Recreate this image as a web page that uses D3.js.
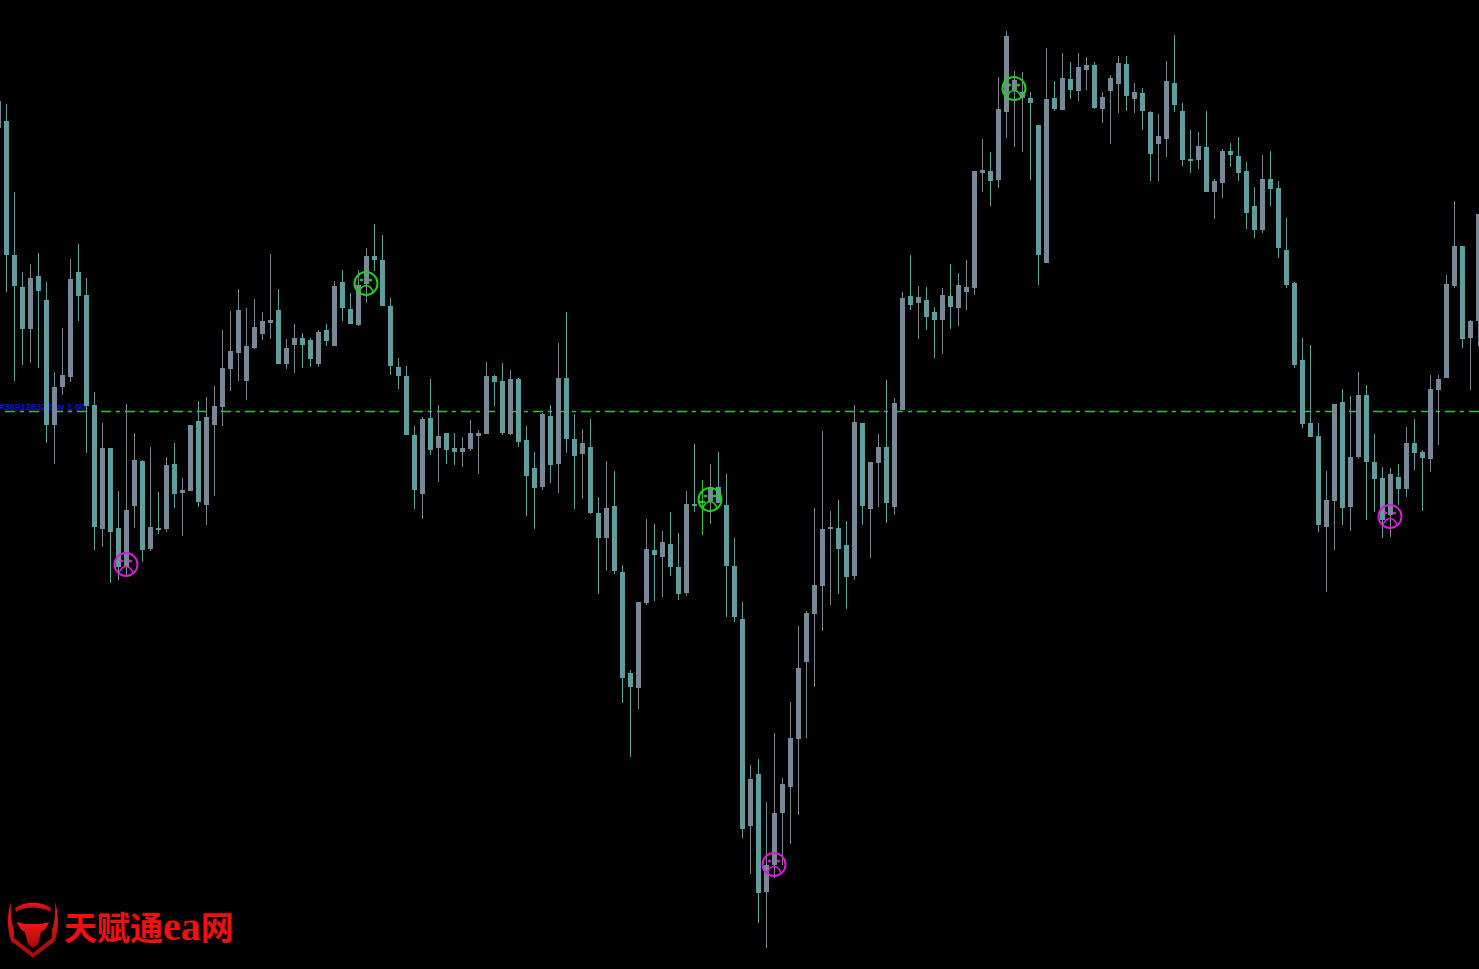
<!DOCTYPE html>
<html>
<head>
<meta charset="utf-8">
<script src="https://cdn.jsdelivr.net/npm/d3@7"></script>
<style>html,body{margin:0;padding:0;background:#000;overflow:hidden}svg{display:block}</style>
</head>
<body>
<div id="chart"></div>
<script>
const highs=[868,865,777,697,705,716,687,597,641,710,725,691,577,546,521,478,565,536,509,522,477,512,526,491,544,568,572,583,639,658,680,661,670,657,715,680,630,645,636,631,639,645,688,699,676,699,721,745,734,671,611,603,543,552,590,564,536,536,532,549,539,607,594,606,599,591,543,517,556,564,626,657,555,540,550,472,508,498,404,299,367,450,445,438,457,436,478,525,489,505,517,495,431,367,204,210,167,236,191,267,343,358,461,538,458,469,448,564,546,507,535,589,571,677,714,683,682,662,681,705,696,709,798,830,817,892,938,898,897,877,844,921,888,916,907,916,912,907,877,894,913,913,886,881,858,855,908,934,866,839,837,858,790,820,826,832,807,782,814,818,788,751,687,631,624,546,498,565,580,573,597,584,535,502,501,505,542,550,519,594,594,694,768,723,649,755];
const lows=[841,677,588,604,606,601,526,505,574,587,648,516,419,422,386,389,394,441,407,418,435,437,461,433,478,462,444,473,543,578,588,569,620,629,630,605,600,596,601,602,602,623,623,648,645,643,666,698,663,594,580,534,460,450,514,487,505,504,502,518,495,535,563,534,534,522,453,440,479,486,476,516,460,470,455,375,398,395,266,212,260,364,368,372,393,369,373,457,434,445,466,352,347,131,95,46,21,91,104,125,154,231,282,338,364,375,360,389,444,411,462,446,454,559,659,630,639,611,615,640,643,659,674,777,763,781,831,822,817,789,684,706,858,859,870,868,879,860,846,825,856,858,856,839,788,788,812,857,803,796,800,777,750,771,802,788,740,731,736,763,711,681,601,541,532,437,377,419,444,438,510,449,457,431,432,464,472,499,458,497,524,591,681,621,579,623];
const opens=[841,848,714,682,640,693,669,544,582,592,697,674,564,440,521,441,402,463,508,420,441,440,505,476,478,548,464,544,562,600,616,588,621,635,646,659,605,624,631,629,605,639,623,687,660,644,685,713,709,663,602,593,534,475,551,521,536,521,517,520,533,535,593,588,535,590,529,501,482,553,505,591,530,515,522,456,431,463,397,296,281,366,419,412,425,402,376,465,468,468,482,464,403,350,143,195,77,104,156,182,230,307,355,383,440,441,424,393,546,460,506,522,462,559,673,666,669,657,649,673,661,677,681,796,798,789,857,879,871,871,844,706,871,859,890,878,899,904,860,878,885,905,870,876,857,825,830,886,858,810,809,822,777,786,818,813,798,763,739,790,781,719,686,609,546,533,442,468,567,462,512,574,507,491,454,492,480,526,517,510,579,591,683,723,631,648];
const closes=[868,714,683,640,691,678,544,582,594,690,673,563,442,521,437,402,459,509,419,442,439,504,475,479,544,467,552,563,601,618,659,623,642,648,649,605,621,631,624,610,637,628,683,661,645,684,713,709,663,603,593,534,479,550,519,533,519,517,521,536,536,593,587,536,590,527,493,481,555,504,591,530,513,526,456,431,461,398,291,282,367,420,414,427,402,375,465,463,466,482,466,403,352,140,190,76,104,156,185,231,301,356,384,440,442,420,392,547,463,507,522,466,566,671,664,672,652,649,674,662,684,682,798,799,788,860,933,889,877,866,714,870,860,891,879,902,904,861,872,891,906,873,877,858,815,833,888,864,809,808,823,777,788,818,814,796,756,739,790,780,721,684,604,545,532,444,469,565,461,512,574,507,490,449,495,480,526,516,511,580,590,685,723,630,648,755];

const signalCandle = 88;
const signalLow = [16, 97, 174];
const signalHigh = [46, 89, 127];
const signalLevels = {16:404.5, 97:104.5, 174:452.5, 46:685.5, 89:469.5, 127:880.5};
const orderLevel = 557.5;
const orderLabel = "#36912832 buy 1.00";
const brandCjk = "天赋通", brandLatin = "ea", brandEnd = "网";

const W=1479,H=969;
const bear="#5f9ea0",bull="#778899",sigGreen="#22d022",sigMagenta="#d81fd8";
const x=d3.scaleLinear().domain([0,185]).range([-1.5,1478.5]);
const y=d3.scaleLinear().domain([0,969]).range([969,0]);
const candles=highs.map((h,i)=>({i,h,l:lows[i],o:opens[i],c:closes[i]}));
const colorOf=d=>d.i===signalCandle?sigGreen:(d.c>=d.o?bull:bear);

const svg=d3.select("#chart").append("svg").attr("width",W).attr("height",H).style("background","#000");

svg.append("text").attr("x",-1).attr("y",y(orderLevel)-2)
  .attr("font-family","Liberation Sans, Arial, sans-serif").attr("font-size",9.5)
  .attr("fill","#1414e0").attr("stroke","#1414e0").attr("stroke-width",0.25).text(orderLabel);

svg.append("line").attr("x1",5).attr("x2",W).attr("y1",y(orderLevel)).attr("y2",y(orderLevel))
  .attr("stroke","#35c035").attr("stroke-width",1.4).attr("stroke-dasharray","10 5 4 5");

const g=svg.append("g").attr("shape-rendering","crispEdges");
g.selectAll("line.w").data(candles).join("line").attr("class","w")
  .attr("x1",d=>x(d.i)).attr("x2",d=>x(d.i)).attr("y1",d=>y(d.h)).attr("y2",d=>y(d.l))
  .attr("stroke",colorOf).attr("stroke-width",1);
g.selectAll("rect").data(candles).join("rect")
  .attr("x",d=>x(d.i)-2.5).attr("width",5)
  .attr("y",d=>y(Math.max(d.o,d.c))).attr("height",d=>Math.max(1,Math.abs(d.o-d.c)))
  .attr("fill",colorOf);

function face(i,color){
  const m=svg.append("g").attr("transform",`translate(${x(i)-0.5},${y(signalLevels[i])})`)
    .attr("fill","none").attr("stroke",color);
  m.append("circle").attr("r",11.5).attr("stroke-width",2);
  m.append("path").attr("d","M-7,8.5 C-5,3 -2.5,2 0,2 C2.5,2 5,3 7,8.5").attr("stroke-width",1.5);
  [-4.5,4.5].forEach(dx=>m.append("circle").attr("cx",dx).attr("cy",-3.5).attr("r",1.6).attr("fill",color).attr("stroke","none"));
}
signalLow.forEach(i=>face(i,sigMagenta));
signalHigh.forEach(i=>face(i,sigGreen));

const defs=svg.append("defs");
const grad=defs.append("linearGradient").attr("id","red").attr("x1",0).attr("x2",0).attr("y1",0).attr("y2",1);
grad.append("stop").attr("offset","0%").attr("stop-color","#f01818");
grad.append("stop").attr("offset","100%").attr("stop-color","#a80808");
const logo=svg.append("g").attr("fill","url(#red)");
logo.append("path").attr("d","M11,902 C6,918 8,930 11,941 L33,958 L55,941 C58,930 60,918 55,902 C56,915 54,925 52,930 L52,938 L33,953 L14,938 L14,930 C12,925 10,915 11,902 Z");
logo.append("path").attr("d","M15,908 C25,901 41,901 51,908 L50,912 C41,906 25,906 16,912 Z");
logo.append("path").attr("d","M17,922 L25,924 L41,924 L49,922 C47,928 44,931 41,932 L38,944 L33,948 L28,944 L25,932 C22,931 19,928 17,922 Z");

const t=svg.append("text").attr("x",64).attr("y",940).attr("fill","#f01010").attr("font-weight","bold").attr("font-size",33)
  .attr("font-family","'Liberation Serif','Noto Sans CJK SC',serif");
t.append("tspan").attr("font-family","'Noto Sans CJK SC',sans-serif").text(brandCjk);
t.append("tspan").attr("font-size",40).text(brandLatin);
t.append("tspan").attr("font-family","'Noto Sans CJK SC',sans-serif").text(brandEnd);
</script>
</body>
</html>
